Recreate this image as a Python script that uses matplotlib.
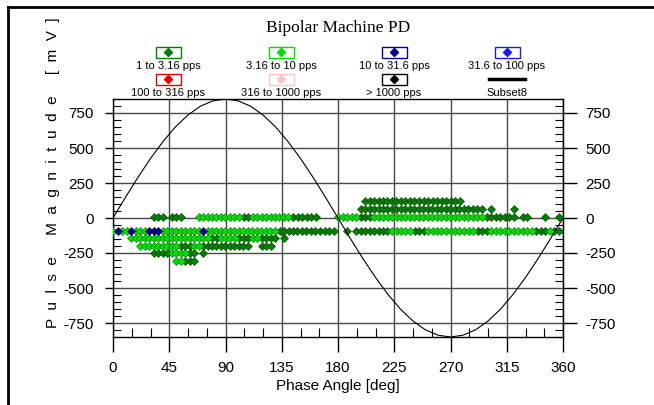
import numpy as np
import matplotlib
matplotlib.use("Agg")
import matplotlib.pyplot as plt
from matplotlib.patches import Rectangle
from matplotlib.lines import Line2D
from matplotlib.ticker import MultipleLocator, NullLocator

SANS = ["Liberation Sans Narrow", "Liberation Sans", "DejaVu Sans"]
SERIF = ["Liberation Serif", "DejaVu Serif"]
plt.rcParams["font.family"] = SANS
plt.rcParams["axes.unicode_minus"] = False

W, H = 654, 405

# phase bin width of the PD analyser [deg]
PHASE_STEP = 3.6

legend_labels = ["1 to 3.16 pps", "3.16 to 10 pps", "10 to 31.6 pps", "31.6 to 100 pps",
                 "100 to 316 pps", "316 to 1000 pps", "> 1000 pps", "Subset8"]
legend_colors = ["#008000", "#00dd00", "#000090", "#1c1ce0",
                 "#dd0000", "#ffc4c4", "#000000", "#000000"]

# pulse runs: (magnitude mV, first phase deg, last phase deg)
runs_1_to_3 = [
    (123, 201.6, 241.2), (123, 244.8, 255.6), (123, 259.2, 277.2),
    (65, 198.0, 295.2), (65, 302.4, 302.4), (65, 320.4, 320.4),
    (10, 32.4, 39.6), (10, 46.8, 54.0), (10, 104.4, 108.0), (10, 144.0, 162.0),
    (10, 198.0, 205.2), (10, 298.8, 320.4), (10, 327.6, 331.2), (10, 345.6, 345.6),
    (10, 356.4, 356.4),
    (-90, 133.2, 165.6), (-90, 169.2, 176.4), (-90, 187.2, 187.2), (-90, 194.4, 219.6),
    (-90, 241.2, 248.4), (-90, 291.6, 298.8), (-90, 338.4, 345.6), (-90, 352.8, 356.4),
    (-145, 79.2, 82.8), (-145, 100.8, 108.0), (-145, 118.8, 129.6), (-145, 136.8, 136.8),
    (-200, 54.0, 61.2), (-200, 72.0, 104.4), (-200, 108.0, 108.0), (-200, 118.8, 126.0),
    (-250, 32.4, 43.2), (-250, 61.2, 64.8), (-250, 72.0, 72.0),
    (-305, 57.6, 64.8),
]
runs_3_to_10 = [
    (10, 68.4, 100.8), (10, 111.6, 140.4), (10, 180.0, 194.4), (10, 208.8, 295.2),
    (-90, 0.0, 0.0), (-90, 7.2, 10.8), (-90, 18.0, 25.2), (-90, 39.6, 68.4),
    (-90, 75.6, 129.6), (-90, 223.2, 237.6), (-90, 252.0, 288.0), (-90, 302.4, 334.8),
    (-90, 349.2, 349.2),
    (-145, 14.4, 75.6), (-145, 86.4, 97.2), (-145, 111.6, 115.2),
    (-200, 21.6, 50.4), (-200, 64.8, 68.4),
    (-250, 46.8, 57.6),
    (-305, 50.4, 54.0),
]
runs_10_to_31 = [
    (-90, 3.6, 3.6), (-90, 14.4, 14.4), (-90, 28.8, 36.0), (-90, 72.0, 72.0),
]
class_runs = [runs_1_to_3, runs_3_to_10, runs_10_to_31]
class_edges = ["#004000", "#007000", "#000040"]

# Subset8 reference voltage, read every 10 deg
sine_phase = list(range(0, 361, 10))
sine_value = [0, 148, 291, 425, 546, 651, 736, 799, 837, 850, 837, 799, 736, 651, 546, 425, 291, 148,
              0, -148, -291, -425, -546, -651, -736, -799, -837, -850, -837, -799, -736, -651, -546,
              -425, -291, -148, 0]


def expand(runs):
    phase, mag = [], []
    for m, start, end in runs:
        p = np.arange(start, end + PHASE_STEP / 2, PHASE_STEP)
        phase.extend(p)
        mag.extend([m] * len(p))
    return phase, mag


def fx(x):
    return x / W


def fy(y):
    return 1 - y / H


fig = plt.figure(figsize=(W / 100, H / 100), dpi=100)
ax = fig.add_axes([fx(113), fy(337), 450 / W, 238 / H])

ax.set_xlim(0, 360)
ax.set_ylim(-850, 850)
ax.set_xticks(np.arange(0, 361, 45))
ax.set_yticks(np.arange(-750, 751, 250))
ax.xaxis.set_minor_locator(MultipleLocator(15))
ax.yaxis.set_minor_locator(MultipleLocator(50))
ax.grid(True, which="major", color="#484848", linewidth=1.0, zorder=0)
ax.set_axisbelow(True)
for sp in ax.spines.values():
    sp.set_color("black")
    sp.set_linewidth(1.0)

ax.tick_params(axis="x", which="major", direction="out", length=11, width=1, pad=6,
               labelsize=11, top=False)
ax.tick_params(axis="x", which="minor", direction="in", length=6.5, width=0.8, top=False)
ax.tick_params(axis="y", which="major", direction="out", length=6, width=1, pad=8,
               labelsize=11, left=True, right=False)
ax.tick_params(axis="y", which="minor", direction="in", length=6, width=0.8,
               left=True, right=True)

sec = ax.secondary_yaxis("right")
sec.set_yticks(np.arange(-750, 751, 250))
sec.yaxis.set_minor_locator(NullLocator())
sec.tick_params(axis="y", which="major", direction="out", length=10, width=1, pad=6,
                labelsize=11)

# pulses per rate class
for runs, color, edge in zip(class_runs, legend_colors, class_edges):
    phase, mag = expand(runs)
    ax.scatter(phase, mag, marker="D", s=17, c=color, edgecolors=edge, linewidths=0.4, zorder=3)

ax.plot(sine_phase, sine_value, color="black", linewidth=0.8, zorder=4)

ax.set_xlabel("Phase Angle [deg]", fontsize=11)
ax.xaxis.set_label_coords(0.5, -0.178)
ax.set_ylabel("P  u  l  s  e     M  a  g  n  i  t  u  d  e     [  m  V  ]", fontsize=11)
ax.yaxis.set_label_coords(-0.118, 0.69)

fig.text(fx(338), fy(28), "Bipolar Machine PD", ha="center", va="center",
         fontsize=12.5, family=SERIF)

# legend: marker boxes above labels, 4 columns x 2 rows
col_x = [168, 281, 394, 507]
box_y = [52, 79]
text_y = [66, 93]
for i, (label, color) in enumerate(zip(legend_labels, legend_colors)):
    r, c = divmod(i, 4)
    cx, by = col_x[c], box_y[r]
    if label == "Subset8":
        fig.add_artist(Line2D([fx(cx - 18), fx(cx + 18)], [fy(by), fy(by)],
                              transform=fig.transFigure, color=color, linewidth=2.5))
    else:
        fig.add_artist(Rectangle((fx(cx - 12.5), fy(by + 5.5)), 25 / W, 11 / H,
                                 transform=fig.transFigure, facecolor="white",
                                 edgecolor=color, linewidth=1.0))
        fig.add_artist(Line2D([fx(cx)], [fy(by)], transform=fig.transFigure, marker="D",
                              markersize=4, color=color, linestyle="none"))
    fig.text(fx(cx), fy(text_y[r]), label, ha="center", va="center", fontsize=8)

# outer frame (top and left edges visible)
fig.add_artist(Line2D([fx(8), fx(8)], [0, fy(7)], transform=fig.transFigure,
                      color="black", linewidth=2))
fig.add_artist(Line2D([fx(8), 1], [fy(7), fy(7)], transform=fig.transFigure,
                      color="black", linewidth=2))

fig.savefig("out.png", dpi=100)
